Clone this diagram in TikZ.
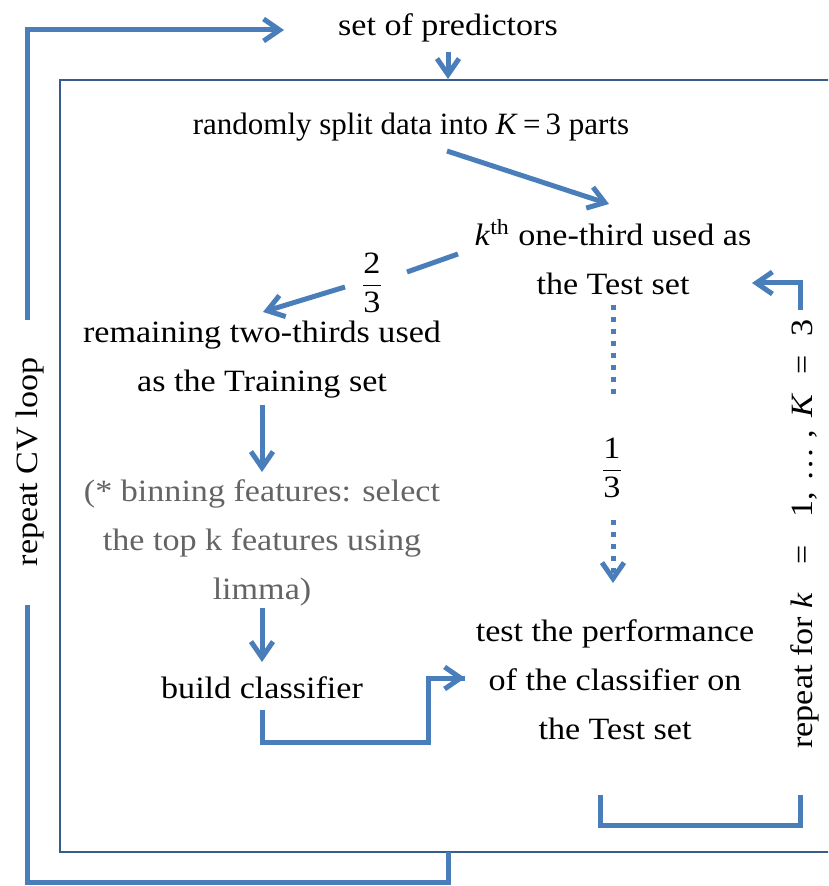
\documentclass[tikz,border=0pt]{standalone}
\usepackage{amsmath}
\usepackage{fontspec}
\setmainfont{Liberation Serif}[FakeStretch=1.1]
\newfontfamily\plainserif{Liberation Serif}
\usetikzlibrary{arrows.meta}
\definecolor{flowblue}{RGB}{74,126,187}
\definecolor{boxblue}{RGB}{56,93,138}
\definecolor{notegray}{RGB}{100,100,100}
\tikzset{txt/.style = {align=center, inner sep=0pt, font=\fontsize{15.5}{24.5}\selectfont}}
\tikzset{link/.style = {line width=2.5pt, draw=flowblue, line join=miter}}
\tikzset{flow/.style = {link, -{Straight Barb[length=8pt,width=11pt]}}}
\tikzset{dots/.style = {dash pattern=on 2.5pt off 3.5pt}}

\begin{document}
\begin{tikzpicture}[x=0.5pt, y=-0.5pt]
        \useasboundingbox (0,0) rectangle (828,886);
        \clip (0,0) rectangle (828,886);
        \draw[boxblue, line width=1.2pt] (60,80) rectangle (840,852);

        \node[txt] (pred) at (448,28) {set of predictors};
        \node[txt, font=\fontsize{15.5}{24.5}\plainserif] (split) at (411,127) {randomly split data into \textit{K}\,=\,3 parts};
        \node[txt] (test) at (613,257) {\textit{k}\textsuperscript{th} one-third used as\\the Test set};
        \node[txt] (third2) at (372,283) {$\dfrac{\text{2}}{\text{3}}$};
        \node[txt] (train) at (262,360) {remaining two-thirds used\\as the Training set};
        \node[txt, text=notegray] (bin) at (262,543) {(* binning features: select\\the top k features using\\limma)};
        \node[txt] (build) at (262,688) {build classifier};
        \node[txt] (third1) at (612,468) {$\dfrac{\text{1}}{\text{3}}$};
        \node[txt] (perf) at (615,680) {test the performance\\of the classifier on\\the Test set};
        \node[txt, rotate=90] (cv) at (30,462) {repeat CV loop};
        \node[txt, rotate=90] (rep) at (805,534) {repeat for \textit{k}\hspace{0.9em}=\hspace{0.9em}1,\hspace{0.35em}…\hspace{0.3em},\hspace{0.4em}\textit{K}\hspace{0.6em}=\hspace{0.6em}3};

        \coordinate (cvtop) at (27,320);
        \coordinate (cvbot) at (27,605);
        \coordinate (reptop) at (800,310);
        \coordinate (repbot) at (800,795);

        \draw[flow] (448,52) -- (448,79);
        \draw[flow] (447,151) -- (609,204);
        \draw[link] (458,254) -- (407,272);
        \draw[flow] (345,287) -- (263,312);
        \draw[flow] (262,405) -- (262,472);
        \draw[flow] (262,608) -- (262,662);
        \draw[link] (262,710) |- (428,742) |- (465,678);
        \draw[flow] (428,678) -- (465,678);
        \draw[link, dots] (613,305) -- (613,395);
        \draw[flow, dots] (613,520) -- (613,583);
        \draw[link] (448,852) |- (27,882) -- (cvbot);
        \draw[flow] (cvtop) |- (284,30);
        \draw[link] (600,795) |- (800,825) -- (repbot);
        \draw[flow] (reptop) |- (752,283);
      \end{tikzpicture}
\end{document}
